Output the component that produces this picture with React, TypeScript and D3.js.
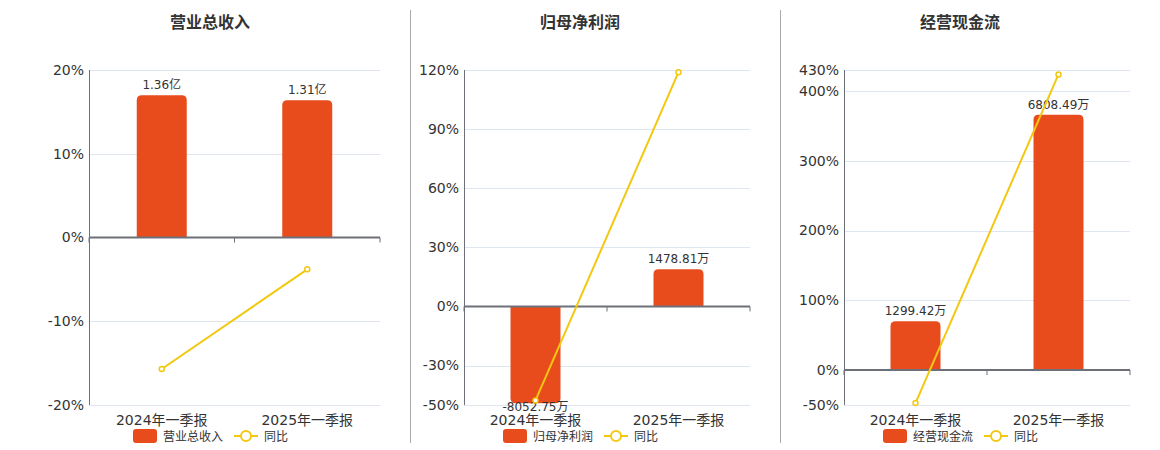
import * as d3 from "d3"
import { useEffect, useRef } from "react"

// categories shared by all three panels
const categories = ["2024年一季报", "2025年一季报"]

// panel titles / bar series names
const titles = ["营业总收入", "归母净利润", "经营现金流"]

// bar values (营业总收入 in 亿, the others in 万)
const revenueValues = [1.36, 1.31]
const netProfitValues = [-8052.75, 1478.81]
const cashFlowValues = [1299.42, 6808.49]

// bar labels as shown
const revenueLabels = ["1.36亿", "1.31亿"]
const netProfitLabels = ["-8052.75万", "1478.81万"]
const cashFlowLabels = ["1299.42万", "6808.49万"]

// 同比 (%)
const revenueYoy = [-15.7, -3.8]
const netProfitYoy = [-47.7, 118.9]
const cashFlowYoy = [-47.3, 423.7]

// left axis ticks (%)
const revenueTicks = [-20, -10, 0, 10, 20]
const netProfitTicks = [-50, -30, 0, 30, 60, 90, 120]
const cashFlowTicks = [-50, 0, 100, 200, 300, 400, 430]

// hidden bar axis extents (aligned with 0%)
const revenueBarDomain = [-1.6, 1.6]
const netProfitBarDomain = [-8200, 9400]
const cashFlowBarDomain = [-1333, 8000]

const BAR = "#e84c1c"
const LINE = "#f2c811"
const TEXT = "#333"
const FONT = "'DejaVu Sans', 'Noto Sans CJK SC', sans-serif"

const panels = [
  {
    title: titles[0],
    bars: revenueValues,
    labels: revenueLabels,
    yoy: revenueYoy,
    ticks: revenueTicks,
    barDomain: revenueBarDomain,
    left: 89,
    right: 380,
    center: 210,
  },
  {
    title: titles[1],
    bars: netProfitValues,
    labels: netProfitLabels,
    yoy: netProfitYoy,
    ticks: netProfitTicks,
    barDomain: netProfitBarDomain,
    left: 464,
    right: 750,
    center: 580,
  },
  {
    title: titles[2],
    bars: cashFlowValues,
    labels: cashFlowLabels,
    yoy: cashFlowYoy,
    ticks: cashFlowTicks,
    barDomain: cashFlowBarDomain,
    left: 844,
    right: 1130,
    center: 960,
  },
]

const App = () => {
  const svgRef = useRef<SVGSVGElement | null>(null)

  useEffect(() => {
    if (!svgRef.current) return
    const svg = d3.select(svgRef.current)
    svg.selectAll("*").remove()

    const top = 70
    const bottom = 405

    // separators
    svg
      .selectAll(".sep")
      .data([410.5, 780.5])
      .enter()
      .append("line")
      .attr("x1", (d) => d)
      .attr("x2", (d) => d)
      .attr("y1", 10)
      .attr("y2", 443)
      .attr("stroke", "#aaa")
      .attr("stroke-width", 1)

    panels.forEach((p, pi) => {
      const g = svg.append("g").style("font-family", FONT)

      const x = d3
        .scaleBand()
        .domain(categories)
        .range([p.left, p.right])
        .paddingInner(0)
        .paddingOuter(0)

      const yMin = d3.min(p.ticks)!
      const yMax = d3.max(p.ticks)!
      const y = d3.scaleLinear().domain([yMin, yMax]).range([bottom, top])
      const y0 = y(0)

      const yBar = d3
        .scaleLinear()
        .domain([p.barDomain[0], 0, p.barDomain[1]])
        .range([bottom, y0, top])

      // title
      g.append("text")
        .attr("x", p.center)
        .attr("y", 28)
        .attr("text-anchor", "middle")
        .attr("fill", TEXT)
        .style("font-size", "16px")
        .style("font-weight", "bold")
        .text(p.title)

      // grid lines
      g.selectAll(".grid")
        .data(p.ticks.filter((t) => t !== 0))
        .enter()
        .append("line")
        .attr("x1", p.left)
        .attr("x2", p.right)
        .attr("y1", (d) => Math.round(y(d)) + 0.5)
        .attr("y2", (d) => Math.round(y(d)) + 0.5)
        .attr("stroke", "#e0e6f1")
        .attr("stroke-width", 1)

      // y tick labels
      g.selectAll(".ytick")
        .data(p.ticks)
        .enter()
        .append("text")
        .attr("x", p.left - 5)
        .attr("y", (d) => y(d))
        .attr("dy", "0.35em")
        .attr("text-anchor", "end")
        .attr("fill", TEXT)
        .style("font-size", "14px")
        .text((d) => `${d}%`)

      // bars with rounded far end
      const r = 5
      const bw = 50
      g.selectAll(".bar")
        .data(p.bars)
        .enter()
        .append("path")
        .attr("fill", BAR)
        .attr("d", (d, i) => {
          const cx = x(categories[i])! + x.bandwidth() / 2
          const x0 = cx - bw / 2
          const x1 = cx + bw / 2
          const yEnd = yBar(d)
          const s = d >= 0 ? 1 : -1
          const rr = Math.min(r, Math.abs(yEnd - y0))
          return `M${x0},${y0} L${x0},${yEnd + s * rr} Q${x0},${yEnd} ${x0 + rr},${yEnd} L${x1 - rr},${yEnd} Q${x1},${yEnd} ${x1},${yEnd + s * rr} L${x1},${y0} Z`
        })

      // bar labels
      g.selectAll(".blabel")
        .data(p.bars)
        .enter()
        .append("text")
        .attr("x", (d, i) => x(categories[i])! + x.bandwidth() / 2)
        .attr("y", (d) => (d >= 0 ? yBar(d) - 6 : yBar(d) + 8))
        .attr("text-anchor", "middle")
        .attr("fill", TEXT)
        .style("font-size", "12px")
        .text((d, i) => p.labels[i])

      // y axis line
      g.append("line")
        .attr("x1", p.left + 0.5)
        .attr("x2", p.left + 0.5)
        .attr("y1", top)
        .attr("y2", bottom)
        .attr("stroke", "#6e7079")
        .attr("stroke-width", 1)

      // x axis at zero
      g.append("line")
        .attr("x1", p.left)
        .attr("x2", p.right)
        .attr("y1", y0)
        .attr("y2", y0)
        .attr("stroke", "#6e7079")
        .attr("stroke-width", 2)

      const boundaries = [p.left, p.left + x.bandwidth(), p.right]
      g.selectAll(".xtick")
        .data(boundaries)
        .enter()
        .append("line")
        .attr("x1", (d) => d)
        .attr("x2", (d) => d)
        .attr("y1", y0)
        .attr("y2", y0 + 5)
        .attr("stroke", "#6e7079")
        .attr("stroke-width", 1)

      // x labels
      g.selectAll(".xlabel")
        .data(categories)
        .enter()
        .append("text")
        .attr("x", (d) => x(d)! + x.bandwidth() / 2)
        .attr("y", 425)
        .attr("text-anchor", "middle")
        .attr("fill", TEXT)
        .style("font-size", "14px")
        .text((d) => d)

      // yoy line
      const line = d3
        .line<number>()
        .x((d, i) => x(categories[i])! + x.bandwidth() / 2)
        .y((d) => y(d))
      g.append("path")
        .datum(p.yoy)
        .attr("d", line)
        .attr("fill", "none")
        .attr("stroke", LINE)
        .attr("stroke-width", 2)

      g.selectAll(".pt")
        .data(p.yoy)
        .enter()
        .append("circle")
        .attr("cx", (d, i) => x(categories[i])! + x.bandwidth() / 2)
        .attr("cy", (d) => y(d))
        .attr("r", 2.5)
        .attr("fill", "#fff")
        .attr("stroke", LINE)
        .attr("stroke-width", 1.5)

      // legend
      const lg = g.append("g").attr("transform", `translate(${p.center},0)`)
      lg.append("rect")
        .attr("x", -77)
        .attr("y", 429)
        .attr("width", 24)
        .attr("height", 14)
        .attr("rx", 3)
        .attr("fill", BAR)
      lg.append("text")
        .attr("x", -47)
        .attr("y", 441)
        .attr("fill", TEXT)
        .style("font-size", "12px")
        .text(titles[pi])
      lg.append("line")
        .attr("x1", 24)
        .attr("x2", 48)
        .attr("y1", 436)
        .attr("y2", 436)
        .attr("stroke", LINE)
        .attr("stroke-width", 2)
      lg.append("circle")
        .attr("cx", 36)
        .attr("cy", 436)
        .attr("r", 5)
        .attr("fill", "#fff")
        .attr("stroke", LINE)
        .attr("stroke-width", 2)
      lg.append("text")
        .attr("x", 54)
        .attr("y", 441)
        .attr("fill", TEXT)
        .style("font-size", "12px")
        .text("同比")
    })
  }, [])

  return (
    <div style={{ position: "absolute", left: 0, top: 0, background: "#fff" }}>
      <svg ref={svgRef} width={1160} height={450} style={{ display: "block" }} />
    </div>
  )
}

export default App
